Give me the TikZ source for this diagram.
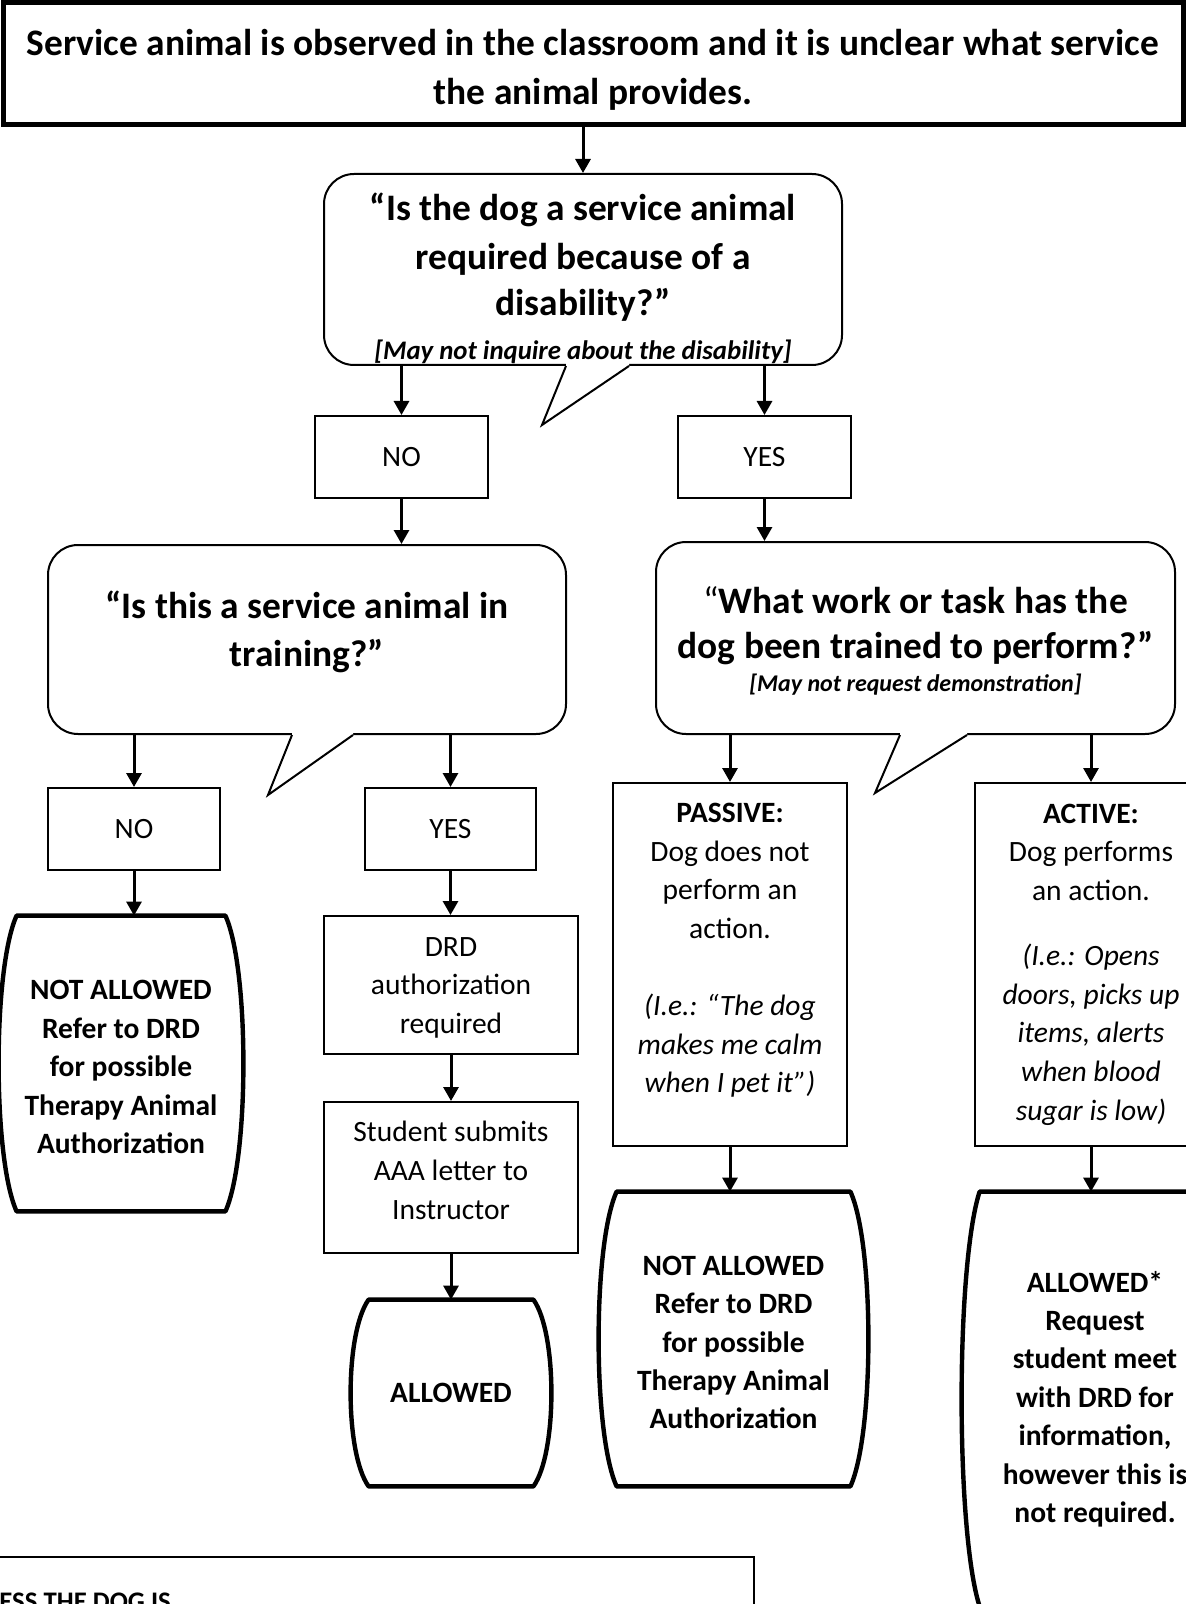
\documentclass[tikz,border=0pt]{standalone}
\usepackage{fontspec}
\setmainfont{Carlito}
\usepackage{tikz}
\usetikzlibrary{arrows.meta,calc}

% 终止框：上下为直边，两侧外凸
\newcommand{\drawbarrel}[2]{%
  \draw[termline] ($(#1.north east)+(-#2,0)$)
    .. controls ($(#1.north east)!0.18!(#1.south east)+(#2/3,0)$)
    and ($(#1.south east)!0.18!(#1.north east)+(#2/3,0)$) .. ($(#1.south east)+(-#2,0)$)
    -- ($(#1.south west)+(#2,0)$)
    .. controls ($(#1.south west)!0.18!(#1.north west)+(-#2/3,0)$)
    and ($(#1.north west)!0.18!(#1.south west)+(-#2/3,0)$) .. ($(#1.north west)+(#2,0)$)
    -- cycle;}

% 对话框尾巴
\newcommand{\drawtail}[4]{%
  \fill[white] ($(#1.south)+(#2,-3)$) -- ($(#1.south)+(#2,0)$) -- ($(#1.south)+#3$)
    -- ($(#1.south)+(#4,0)$) -- ($(#1.south)+(#4,-3)$) -- cycle;
  \draw[bubline] ($(#1.south)+(#2,0)$) -- ($(#1.south)+#3$) -- ($(#1.south)+(#4,0)$);}

\begin{document}
\begin{tikzpicture}[x=0.5pt,y=-0.5pt,>={Triangle[length=7pt,width=7.5pt]},
    startbox/.style={draw,line width=2.5pt,inner sep=0pt},
    bubble/.style={draw,line width=1pt,rounded corners=15pt,inner sep=0pt},
    qtext/.style={align=center,inner sep=0pt,font=\bfseries\fontsize{18.7}{24}\selectfont},
    bubline/.style={line width=1pt,line join=miter},
    answer/.style={draw,line width=1pt,align=center,inner sep=0pt,
      font=\fontsize{14.75}{19.3}\selectfont},
    term/.style={align=center,inner sep=0pt,font=\bfseries\fontsize{14.75}{19.2}\selectfont},
    termline/.style={line width=2.2pt,line join=round},
    flow/.style={->,line width=1.5pt}]

    % 画布
    \useasboundingbox (0,0) rectangle (1186,1604);
    \clip (0,0) rectangle (1186,1604);

    % 起始框
    \node[startbox,minimum width=590pt,minimum height=61pt] (start) at (593,64) {};
    \node[qtext,yshift=-2.8pt] (startt) at (start)
        {Service animal is observed in the classroom and it is unclear what service\\[0.5pt]the animal provides.};

    % 问题一
    \node[bubble,minimum width=259pt,minimum height=95.5pt] (q1) at (583,269.5) {};
    \drawtail{q1}{-17}{(-41,59)}{46}
    \node[qtext,yshift=-4.5pt] (q1t) at (q1)
        {“Is the dog a service animal\\[0.5pt]required because of a\\[-1pt]disability?”\\[-2pt]
         {\itshape\fontsize{13.4}{15}\selectfont [May not inquire about the disability]}};

    \node[answer,minimum width=86.5pt,minimum height=41pt] (no1) at (401.5,457) {NO};
    \node[answer,minimum width=86.5pt,minimum height=41pt] (yes1) at (764.5,457) {YES};

    % 问题二（左）
    \node[bubble,minimum width=259pt,minimum height=94.5pt] (q2) at (307,639.5) {};
    \drawtail{q2}{-15}{(-39,60)}{46}
    \node[qtext,yshift=4pt] (q2t) at (q2) {“Is this a service animal in\\training?”};

    % 问题三（右）
    \node[bubble,minimum width=259.5pt,minimum height=96pt] (q3) at (915.5,638) {};
    \drawtail{q3}{-15.5}{(-40.5,58)}{51.5}
    \node[qtext,yshift=-1.5pt] (q3t) at (q3)
        {{\mdseries “}What work or task has the\\[-1.5pt]dog been trained to perform?”\\[-7.5pt]
         {\itshape\fontsize{12}{14}\selectfont [May not request demonstration]}};

    \node[answer,minimum width=86pt,minimum height=41pt] (no2) at (134,829) {NO};
    \node[answer,minimum width=85.5pt,minimum height=41pt] (yes2) at (450.5,829) {YES};

    % 左列结果
    \node[term,minimum width=122pt,minimum height=147.5pt] (t1) at (121,1063.5)
        {\mbox{}\\[-6pt]NOT ALLOWED\\Refer to DRD\\for possible\\Therapy Animal\\Authorization};
    \drawbarrel{t1}{18}

    \node[answer,minimum width=127pt,minimum height=69pt] (drd) at (451,985)
        {\mbox{}\\[-7pt]DRD\\authorization\\required};
    \node[answer,minimum width=127pt,minimum height=75.5pt] (stud) at (451,1177.5)
        {Student submits\\AAA letter to\\Instructor\\[-12pt]\mbox{}};
    \node[term,minimum width=100pt,minimum height=93pt] (allow) at (451,1393) {ALLOWED};
    \drawbarrel{allow}{18}

    % 右列
    \node[answer,minimum width=117pt,minimum height=181.5pt] (passive) at (730,964.5)
        {\textbf{PASSIVE:}\\Dog does not\\perform an\\action.\\[19.3pt]
         \textit{(I.e.: “The dog}\\\textit{makes me calm}\\\textit{when I pet it”)}\\[-3pt]\mbox{}};
    \node[answer,minimum width=116pt,minimum height=181.5pt] (active) at (1091,964.5)
        {\textbf{ACTIVE:}\\Dog performs\\an action.\\[13.4pt]
         \textit{(I.e.: Opens}\\\textit{doors, picks up}\\\textit{items, alerts}\\\textit{when blood}\\\textit{sugar is low)}};

    \node[term,minimum width=134.5pt,minimum height=147pt] (t2) at (733.5,1339)
        {\mbox{}\\[-6pt]NOT ALLOWED\\Refer to DRD\\for possible\\Therapy Animal\\Authorization};
    \drawbarrel{t2}{18}
    \node[term,minimum width=133pt,minimum height=207pt] (t3) at (1095,1399)
        {ALLOWED*\\Request\\student meet\\with DRD for\\information,\\however this is\\not required.};
    \drawbarrel{t3}{18}

    % 底部说明框
    \node[draw,line width=1pt,minimum width=381.5pt,minimum height=75pt,anchor=north west]
        (notebox) at (-10,1556) {};
    \node[font=\bfseries\fontsize{13.4}{16}\selectfont,anchor=base west,inner sep=0pt]
        (notetext) at (-1,1610) {ESS THE DOG IS};

    % 箭头
    \draw[flow] (q1.north |- start.south) -- (q1.north);
    \draw[flow] (no1.north |- q1.south) -- (no1.north);
    \draw[flow] (yes1.north |- q1.south) -- (yes1.north);
    \draw[flow] (no1.south) -- (no1.south |- q2.north);
    \draw[flow] (yes1.south) -- (yes1.south |- q3.north);
    \draw[flow] (no2.north |- q2.south) -- (no2.north);
    \draw[flow] (yes2.north |- q2.south) -- (yes2.north);
    \draw[flow] (no2.south) -- (no2.south |- t1.north);
    \draw[flow] (yes2.south) -- (yes2.south |- drd.north);
    \draw[flow] (drd.south) -- (stud.north);
    \draw[flow] (stud.south) -- (allow.north);
    \draw[flow] (passive.north |- q3.south) -- (passive.north);
    \draw[flow] (active.north |- q3.south) -- (active.north);
    \draw[flow] (passive.south) -- (passive.south |- t2.north);
    \draw[flow] (active.south) -- (active.south |- t3.north);

\end{tikzpicture}
\end{document}
